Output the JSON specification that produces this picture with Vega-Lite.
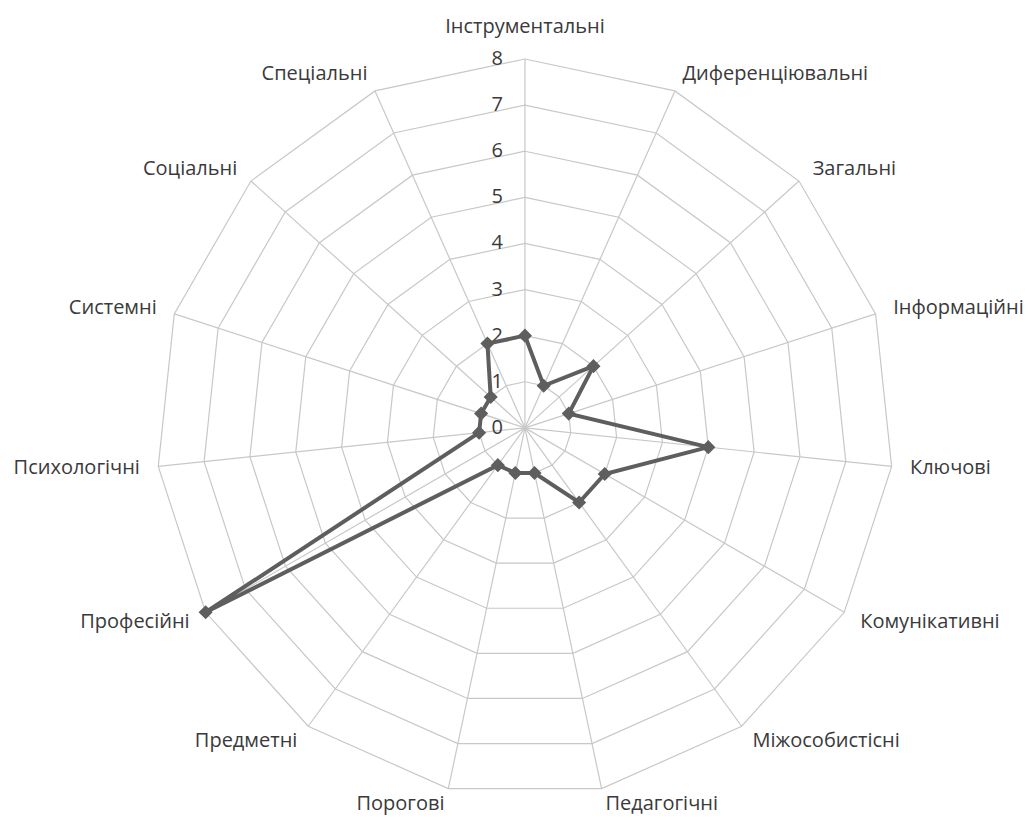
{
  "$schema": "https://vega.github.io/schema/vega-lite/v6.json",
  "width": 1031,
  "height": 817,
  "autosize": {"type": "fit", "contains": "padding"},
  "padding": 0,
  "background": "white",
  "config": {"view": {"stroke": null}, "text": {"font": "Open Sans", "fontSize": 20, "color": "#3a3a3a"}},
  "datasets": {
    "cats": [
      {"name": "Інструментальні", "idx": 0, "value": 2, "levels": [1,2,3,4,5,6,7,8]},
      {"name": "Диференціювальні", "idx": 1, "value": 1, "levels": [1,2,3,4,5,6,7,8]},
      {"name": "Загальні", "idx": 2, "value": 2, "levels": [1,2,3,4,5,6,7,8]},
      {"name": "Інформаційні", "idx": 3, "value": 1, "levels": [1,2,3,4,5,6,7,8]},
      {"name": "Ключові", "idx": 4, "value": 4, "levels": [1,2,3,4,5,6,7,8]},
      {"name": "Комунікативні", "idx": 5, "value": 2, "levels": [1,2,3,4,5,6,7,8]},
      {"name": "Міжособистісні", "idx": 6, "value": 2, "levels": [1,2,3,4,5,6,7,8]},
      {"name": "Педагогічні", "idx": 7, "value": 1, "levels": [1,2,3,4,5,6,7,8]},
      {"name": "Порогові", "idx": 8, "value": 1, "levels": [1,2,3,4,5,6,7,8]},
      {"name": "Предметні", "idx": 9, "value": 1, "levels": [1,2,3,4,5,6,7,8]},
      {"name": "Професійні", "idx": 10, "value": 8, "levels": [1,2,3,4,5,6,7,8]},
      {"name": "Психологічні", "idx": 11, "value": 1, "levels": [1,2,3,4,5,6,7,8]},
      {"name": "Системні", "idx": 12, "value": 1, "levels": [1,2,3,4,5,6,7,8]},
      {"name": "Соціальні", "idx": 13, "value": 1, "levels": [1,2,3,4,5,6,7,8]},
      {"name": "Спеціальні", "idx": 14, "value": 2, "levels": [1,2,3,4,5,6,7,8]}
    ],
    "ticks": [{"v": 0}, {"v": 1}, {"v": 2}, {"v": 3}, {"v": 4}, {"v": 5}, {"v": 6}, {"v": 7}, {"v": 8}]
  },
  "encoding": {
    "x": {"field": "x", "type": "quantitative", "scale": {"domain": [-11.39, 10.98], "nice": false, "zero": false}, "axis": null},
    "y": {"field": "y", "type": "quantitative", "scale": {"domain": [-8.44, 9.28], "nice": false, "zero": false}, "axis": null}
  },
  "layer": [
    {
      "data": {"name": "cats"},
      "transform": [
        {"calculate": "datum.idx * 2 * PI / 15", "as": "a"},
        {"calculate": "8 * sin(datum.a)", "as": "x"},
        {"calculate": "8 * cos(datum.a)", "as": "y"},
        {"calculate": "0", "as": "x0"},
        {"calculate": "0", "as": "y0"}
      ],
      "mark": {"type": "rule", "color": "#c8c8c8", "strokeWidth": 1.2},
      "encoding": {"x2": {"field": "x0"}, "y2": {"field": "y0"}}
    },
    {
      "data": {"name": "cats"},
      "transform": [
        {"flatten": ["levels"], "as": ["level"]},
        {"calculate": "datum.idx * 2 * PI / 15", "as": "a"},
        {"calculate": "datum.level * sin(datum.a)", "as": "x"},
        {"calculate": "datum.level * cos(datum.a)", "as": "y"}
      ],
      "mark": {"type": "line", "color": "#c8c8c8", "strokeWidth": 1.2, "interpolate": "linear-closed"},
      "encoding": {"detail": {"field": "level"}, "order": {"field": "idx"}}
    },
    {
      "data": {"name": "ticks"},
      "transform": [
        {"calculate": "0", "as": "x"},
        {"calculate": "datum.v", "as": "y"}
      ],
      "mark": {"type": "text", "align": "right", "baseline": "middle", "dx": -22},
      "encoding": {"text": {"field": "v"}}
    },
    {
      "data": {"name": "cats"},
      "transform": [
        {"calculate": "datum.idx * 2 * PI / 15", "as": "a"},
        {"calculate": "datum.value * sin(datum.a)", "as": "x"},
        {"calculate": "datum.value * cos(datum.a)", "as": "y"}
      ],
      "mark": {"type": "line", "color": "#5e5e5e", "strokeWidth": 4, "interpolate": "linear-closed"},
      "encoding": {"order": {"field": "idx"}}
    },
    {
      "data": {"name": "cats"},
      "transform": [
        {"calculate": "datum.idx * 2 * PI / 15", "as": "a"},
        {"calculate": "datum.value * sin(datum.a)", "as": "x"},
        {"calculate": "datum.value * cos(datum.a)", "as": "y"}
      ],
      "mark": {"type": "point", "shape": "diamond", "filled": true, "color": "#5e5e5e", "size": 200, "opacity": 1}
    },
    {
      "data": {"name": "cats"},
      "transform": [
        {"filter": "datum.idx == 0"},
        {"calculate": "datum.idx * 2 * PI / 15", "as": "a"},
        {"calculate": "8.7 * sin(datum.a)", "as": "x"},
        {"calculate": "8.7 * cos(datum.a)", "as": "y"}
      ],
      "mark": {"type": "text", "align": "center", "baseline": "middle"},
      "encoding": {"text": {"field": "name"}}
    },
    {
      "data": {"name": "cats"},
      "transform": [
        {"filter": "datum.idx >= 1 && datum.idx <= 6"},
        {"calculate": "datum.idx * 2 * PI / 15", "as": "a"},
        {"calculate": "8.4 * sin(datum.a)", "as": "x"},
        {"calculate": "8.4 * cos(datum.a)", "as": "y"}
      ],
      "mark": {"type": "text", "align": "left", "baseline": "middle"},
      "encoding": {"text": {"field": "name"}}
    },
    {
      "data": {"name": "cats"},
      "transform": [
        {"filter": "datum.idx == 7"},
        {"calculate": "datum.idx * 2 * PI / 15", "as": "a"},
        {"calculate": "8.4 * sin(datum.a)", "as": "x"},
        {"calculate": "8.4 * cos(datum.a)", "as": "y"}
      ],
      "mark": {"type": "text", "align": "left", "baseline": "middle", "dy": -3},
      "encoding": {"text": {"field": "name"}}
    },
    {
      "data": {"name": "cats"},
      "transform": [
        {"filter": "datum.idx == 8"},
        {"calculate": "datum.idx * 2 * PI / 15", "as": "a"},
        {"calculate": "8.4 * sin(datum.a)", "as": "x"},
        {"calculate": "8.4 * cos(datum.a)", "as": "y"}
      ],
      "mark": {"type": "text", "align": "right", "baseline": "middle", "dy": -3},
      "encoding": {"text": {"field": "name"}}
    },
    {
      "data": {"name": "cats"},
      "transform": [
        {"filter": "datum.idx >= 9"},
        {"calculate": "datum.idx * 2 * PI / 15", "as": "a"},
        {"calculate": "8.4 * sin(datum.a)", "as": "x"},
        {"calculate": "8.4 * cos(datum.a)", "as": "y"}
      ],
      "mark": {"type": "text", "align": "right", "baseline": "middle"},
      "encoding": {"text": {"field": "name"}}
    }
  ]
}
